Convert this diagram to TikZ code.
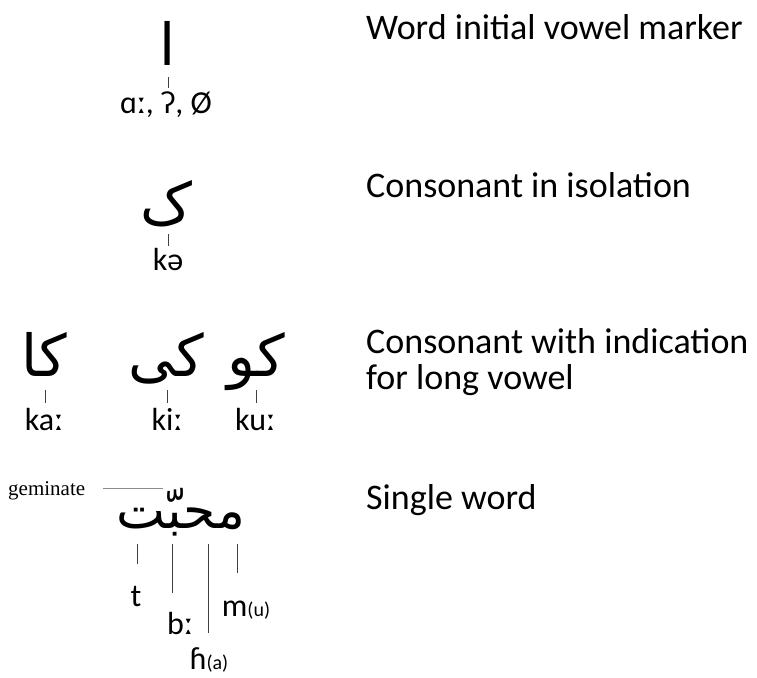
\documentclass[tikz,border=0pt]{standalone}
\usepackage{fontspec}
\setmainfont{Carlito}
\newfontfamily\arabicfont[Script=Arabic]{DejaVu Sans}
\newfontfamily\gemfont{Liberation Serif}
\TeXXeTstate=1
\begin{document}
\begin{tikzpicture}[x=1pt,y=-1pt,
  ar/.style={font=\arabicfont\fontsize{58}{58}\selectfont, inner sep=0pt, anchor=base},
  arw/.style={font=\arabicfont\fontsize{52}{52}\selectfont, inner sep=0pt, anchor=base},
  lab/.style={font=\fontsize{32}{32}\selectfont, inner sep=0pt, anchor=base},
  desc/.style={font=\fontsize{36}{36}\selectfont, inner sep=0pt, anchor=base west},
  tick/.style={draw=black!75, line width=0.8pt}]
\useasboundingbox (0,0) rectangle (757,677);
% row 1
\node[ar] (alef) at (168,66) {\beginR ا\endR};
\node[lab] (l1) at (166,113) {ɑː, ʔ, Ø};
\coordinate (t1a) at (168,77); \coordinate (t1b) at (168,88);
\draw[tick] (t1a) -- (t1b);
\node[desc] (d1) at (366,40) {Word initial vowel marker};
% row 2
\node[ar] (kaf) at (166,224) {\beginR ک\endR};
\node[lab] (l2) at (168,270) {kə};
\coordinate (t2a) at (168,234); \coordinate (t2b) at (168,246);
\draw[tick] (t2a) -- (t2b);
\node[desc] (d2) at (366,197) {Consonant in isolation};
% row 3
\node[ar] (ka) at (44,376) {\beginR کا\endR};
\node[ar] (ki) at (166,376) {\beginR کی\endR};
\node[ar] (ku) at (256,376) {\beginR کو\endR};
\node[lab] (l3a) at (44,430) {kaː};
\node[lab] (l3b) at (167,430) {kiː};
\node[lab] (l3c) at (255,430) {kuː};
\coordinate (t3a) at (45,390); \coordinate (t3b) at (45,403);
\coordinate (t3c) at (167,390); \coordinate (t3d) at (167,403);
\coordinate (t3e) at (256,390); \coordinate (t3f) at (256,403);
\draw[tick] (t3a) -- (t3b);
\draw[tick] (t3c) -- (t3d);
\draw[tick] (t3e) -- (t3f);
\node[desc] (d3) at (366,353) {Consonant with indication};
\node[desc] (d3b) at (366,389) {for long vowel};
% row 4
\node[arw] (word) at (181,528) {\beginR محبّت\endR};
\node[font=\gemfont\fontsize{21}{21}\selectfont, inner sep=0pt, anchor=base west] (gem) at (8,495) {geminate};
\coordinate (g1) at (103,488); \coordinate (g2) at (163,488);
\draw[draw=black!45, line width=0.8pt] (g1) -- (g2);
\node[lab] (lt) at (136,606) {t};
\node[lab] (lb) at (180,634) {bː};
\node[lab] (lh) at (209,669) {ɦ{\fontsize{20}{20}\selectfont(a)}};
\node[lab] (lm) at (246,616) {m{\fontsize{20}{20}\selectfont(u)}};
\coordinate (w1) at (137,544); \coordinate (w1e) at (137,564);
\coordinate (w2) at (172,544); \coordinate (w2e) at (172,593);
\coordinate (w3) at (208,544); \coordinate (w3e) at (208,633);
\coordinate (w4) at (237,544); \coordinate (w4e) at (237,573);
\draw[tick] (w1) -- (w1e);
\draw[tick] (w2) -- (w2e);
\draw[tick] (w3) -- (w3e);
\draw[tick] (w4) -- (w4e);
\node[desc] (d4) at (366,509) {Single word};
\end{tikzpicture}
\end{document}
